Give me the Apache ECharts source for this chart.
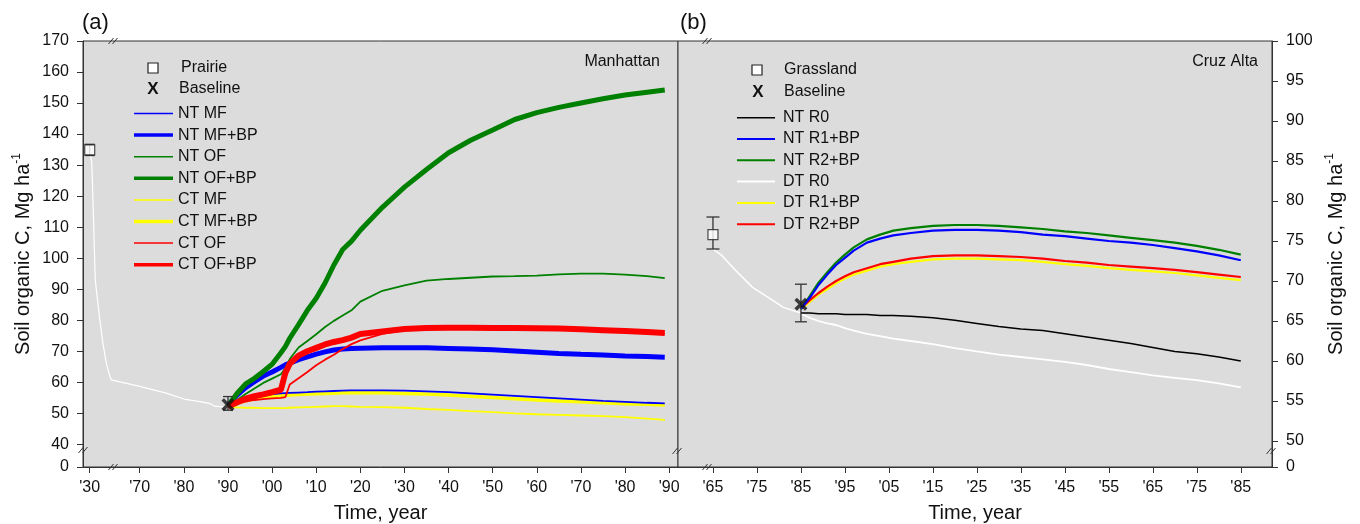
<!DOCTYPE html>
<html><head><meta charset="utf-8">
<script src="https://cdn.jsdelivr.net/npm/echarts@6/dist/echarts.min.js"></script>
<style>html,body{margin:0;padding:0;background:#fff}#c{width:1360px;height:524px}</style>
</head><body><div id="c"></div>
<script>
// ================= DATA =================
// ---- Panel (a): Manhattan ----
const aHistYears  = [1930, 1933, 1936, 1938, 1944, 1949, 1954, 1959, 1961, 1970, 1976, 1980, 1984, 1986, 1987, 1990];
const aHistValues = [134.5, 131, 109, 93, 81.3, 72.6, 66.1, 62, 60.8, 58.7, 56.5, 54.6, 53.7, 53.1, 52.3, 51.9];
const aYears = [1990,1992,1994,1996,1998,2000,2002,2003,2004,2006,2008,2010,2012,2014,2016,2018,2020,2025,2030,2035,2040,2045,2050,2055,2060,2065,2070,2075,2080,2085,2089];
const aNtMF   = [52.4,53.6,54.6,55.4,55.9,56.2,56.4,56.5,56.6,56.7,56.8,57.0,57.1,57.2,57.3,57.4,57.4,57.4,57.3,57.1,56.8,56.4,56.0,55.6,55.2,54.8,54.4,54.0,53.7,53.4,53.2];
const aNtMFBP = [52.6,55.8,58.3,60.2,62.0,63.3,64.8,65.6,66.2,67.3,68.2,69.1,69.8,70.4,70.7,70.9,71.0,71.1,71.1,71.1,70.9,70.7,70.5,70.1,69.7,69.3,69.0,68.8,68.5,68.3,68.1];
const aNtOF   = [52.4,54.2,56.2,58.0,59.8,61.2,62.6,64.5,67.5,71.2,73.3,75.5,77.8,79.8,81.5,83.2,86.0,89.5,91.2,92.8,93.3,93.7,94.1,94.2,94.4,94.8,95.0,95.0,94.7,94.2,93.6];
const aNtOFBP = [52.4,56.3,59.5,61.3,63.5,65.8,69.5,71.5,74.2,78.6,83.2,87.1,92.0,97.8,102.8,105.5,109.0,116.4,122.9,128.6,134.0,138.0,141.3,144.7,146.9,148.6,150.0,151.4,152.6,153.5,154.2];
const aCtMF   = [52.0,51.9,51.8,51.8,51.7,51.7,51.7,51.7,51.8,51.9,52.0,52.1,52.2,52.3,52.3,52.2,52.1,52.0,51.8,51.4,51.1,50.7,50.4,50.0,49.7,49.5,49.3,49.1,48.8,48.3,47.9];
const aCtMFBP = [52.2,53.2,54.0,54.6,55.1,55.4,55.7,55.8,55.9,56.1,56.2,56.3,56.4,56.5,56.6,56.6,56.6,56.6,56.4,56.2,55.9,55.5,55.1,54.7,54.3,54.0,53.7,53.4,53.1,52.9,52.7];
const aCtOF   = [52.2,53.1,53.8,54.3,54.6,54.8,55.0,55.2,59.3,61.3,63.3,65.5,67.3,68.9,70.7,72.3,73.5,75.6,76.8,77.2,77.3,77.3,77.2,77.2,77.1,77.0,76.8,76.5,76.2,75.9,75.6];
const aCtOFBP = [52.2,53.5,54.7,55.5,56.1,56.8,57.6,63.0,66.0,68.6,70.0,71.1,72.2,73.0,73.6,74.4,75.6,76.4,77.2,77.5,77.6,77.6,77.5,77.5,77.4,77.3,77.1,76.8,76.5,76.2,75.9];
const aPrairie  = [1930, 134.9, 133.1, 136.7];   // year, mean, low, high
const aBaseline = [1990, 52.8, 51.0, 55.4];
const aXTickYears  = [1930,1970,1980,1990,2000,2010,2020,2030,2040,2050,2060,2070,2080,2090];
const aXTickLabels = ["'30","'70","'80","'90","'00","'10","'20","'30","'40","'50","'60","'70","'80","'90"];
const aYTicks = [0,40,50,60,70,80,90,100,110,120,130,140,150,160,170];

// ---- Panel (b): Cruz Alta ----
const bHistYears  = [1965, 1967, 1970, 1974, 1978, 1981, 1985];
const bHistValues = [74.0, 73.2, 71.4, 69.2, 67.8, 66.7, 66.0];
const bYears = [1985,1987,1989,1991,1993,1995,1997,2000,2003,2006,2010,2015,2020,2025,2030,2035,2040,2045,2050,2055,2060,2065,2070,2075,2080,2085];
const bNtR0   = [66.0,66.0,65.9,65.9,65.9,65.8,65.8,65.8,65.7,65.7,65.6,65.4,65.1,64.7,64.3,64.0,63.8,63.4,63.0,62.6,62.2,61.7,61.2,60.9,60.5,60.0];
const bNtR1BP = [66.5,67.9,69.5,70.8,72.0,72.9,73.8,74.8,75.3,75.7,76.0,76.3,76.4,76.4,76.3,76.1,75.8,75.6,75.3,75.0,74.8,74.5,74.1,73.7,73.2,72.6];
const bNtR2BP = [66.5,68.1,69.8,71.1,72.3,73.3,74.2,75.2,75.8,76.3,76.6,76.9,77.0,77.0,76.9,76.7,76.5,76.2,76.0,75.7,75.4,75.1,74.8,74.4,73.9,73.3];
const bDtR0   = [65.9,65.4,65.0,64.7,64.5,64.1,63.8,63.4,63.1,62.8,62.5,62.1,61.6,61.2,60.8,60.5,60.2,59.9,59.5,59.0,58.6,58.2,57.9,57.6,57.2,56.7];
const bDtR1BP = [66.5,67.4,68.3,69.0,69.7,70.3,70.8,71.3,71.8,72.1,72.4,72.7,72.8,72.8,72.7,72.6,72.4,72.1,71.9,71.6,71.4,71.2,71.0,70.7,70.4,70.1];
const bDtR2BP = [66.6,67.6,68.5,69.3,70.0,70.6,71.1,71.6,72.1,72.4,72.8,73.1,73.2,73.2,73.1,73.0,72.8,72.5,72.3,72.0,71.8,71.6,71.4,71.1,70.8,70.5];
const bGrassland = [1965, 75.8, 74.0, 78.0];
const bBaseline  = [1985, 67.1, 64.9, 69.6];
const bXTickYears  = [1965,1975,1985,1995,2005,2015,2025,2035,2045,2055,2065,2075,2085];
const bXTickLabels = ["'65","'75","'85","'95","'05","'15","'25","'35","'45","'55","'65","'75","'85"];
const bYTicks = [0,50,55,60,65,70,75,80,85,90,95,100];

// ================= SCALES (broken axes) =================
const A_X_MIN = 1957.14, A_X_MAX = 2092.0, A_BREAK = 1964, A_30 = 1958.66;
const A_Y_MIN = 32.7, A_Y_MAX = 170;
const B_X_MIN = 1957.05, B_X_MAX = 2092.1;
const B_Y_MIN = 46.75, B_Y_MAX = 100;
function ax(r){ return r >= A_BREAK ? r : A_30 + (r - 1930) * (A_BREAK - A_30) / (A_BREAK - 1930); }
function ayT(v){ return v === 0 ? A_Y_MIN : v; }
function byT(v){ return v === 0 ? B_Y_MIN : v; }
function lab(vals, labels){ return v => { let bi=0, bd=1e9; vals.forEach((p,i)=>{const d=Math.abs(p-v); if(d<bd){bd=d;bi=i;}}); return labels[bi]; }; }

const F = '"Liberation Sans", Arial, Helvetica, sans-serif';
const INK = '#111';
const AX = '#333';

const aXT = aXTickYears.map(ax);
const aYT = aYTicks.map(ayT);
const bYT = bYTicks.map(byT);

function xAxisCfg(grid, min, max, ticks, labels){
  return {type:'value', gridIndex:grid, min, max,
    axisLine:{show:true, onZero:false, lineStyle:{color:AX, width:1}},
    axisTick:{show:true, inside:false, length:6, customValues:ticks, lineStyle:{color:AX}},
    axisLabel:{customValues:ticks, formatter:lab(ticks, labels), fontSize:16, fontFamily:F, color:INK, margin:13},
    splitLine:{show:false},
    name:'Time, year', nameLocation:'middle', nameGap:36,
    nameTextStyle:{fontSize:20, fontFamily:F, color:INK}};
}
function yAxisCfg(grid, pos, min, max, ticks, labels, gap){
  return {type:'value', gridIndex:grid, position:pos, min, max,
    axisLine:{show:true, onZero:false, lineStyle:{color:AX, width:1}},
    axisTick:{show:true, inside:false, length:6, customValues:ticks, lineStyle:{color:AX}},
    axisLabel:{customValues:ticks, formatter:lab(ticks, labels.map(String)), fontSize:16, fontFamily:F, color:INK, margin:14},
    splitLine:{show:false},
    name:'{m|Soil organic C, Mg ha}{s|-1}', nameLocation:'middle', nameRotate:90, nameGap:gap,
    nameTextStyle:{rich:{
      m:{fontSize:20, fontFamily:F, color:INK, lineHeight:24},
      s:{fontSize:12, fontFamily:F, color:INK, lineHeight:14, verticalAlign:'top'}}}};
}

function lineS(xi, years, vals, color, width, mapX){
  return {type:'line', xAxisIndex:xi, yAxisIndex:xi, showSymbol:false, silent:true, smooth:false,
    data: years.map((y,i)=>[mapX ? mapX(y) : y, vals[i]]),
    lineStyle:{color, width}, itemStyle:{color}};
}
function errS(xi, rec, mapX, half){
  return {type:'custom', xAxisIndex:xi, yAxisIndex:xi, silent:true, z:5,
    data:[[mapX ? mapX(rec[0]) : rec[0], rec[2], rec[3]]],
    renderItem:(p, api)=>{
      const t = api.coord([api.value(0), api.value(2)]);
      const b = api.coord([api.value(0), api.value(1)]);
      const st = {stroke:'#333', lineWidth:1.3};
      return {type:'group', children:[
        {type:'line', shape:{x1:t[0],y1:t[1],x2:b[0],y2:b[1]}, style:st},
        {type:'line', shape:{x1:t[0]-half,y1:t[1],x2:t[0]+half,y2:t[1]}, style:st},
        {type:'line', shape:{x1:b[0]-half,y1:b[1],x2:b[0]+half,y2:b[1]}, style:st}]};
    }};
}
const X_PATH = 'path://M0,1.9L1.9,0L5,3.1L8.1,0L10,1.9L6.9,5L10,8.1L8.1,10L5,6.9L1.9,10L0,8.1L3.1,5Z';
function squareS(xi, rec, mapX){
  return {type:'scatter', xAxisIndex:xi, yAxisIndex:xi, silent:true, z:6,
    data:[[mapX ? mapX(rec[0]) : rec[0], rec[1]]], symbol:'rect', symbolSize:10,
    itemStyle:{color:'#fff', borderColor:'#222', borderWidth:1.2}};
}
function xS(xi, rec, mapX){
  return {type:'scatter', xAxisIndex:xi, yAxisIndex:xi, silent:true, z:6,
    data:[[mapX ? mapX(rec[0]) : rec[0], rec[1]]], symbol:X_PATH, symbolSize:13,
    itemStyle:{color:'#111'}};
}

// ---- legend / annotation graphics ----
const G = [];
function gText(x, y, text, opt){ G.push({type:'text', x, y, z:100, style:Object.assign({text, fontSize:16, fontFamily:F, fill:INK, align:'left', verticalAlign:'middle'}, opt||{})}); }
function gLine(x1, y1, x2, y2, color, w){ G.push({type:'line', z:100, shape:{x1,y1,x2,y2}, style:{stroke:color, lineWidth:w}}); }
function gSquare(cx, cy){ G.push({type:'rect', z:100, shape:{x:cx-5, y:cy-5, width:10, height:10}, style:{fill:'#fff', stroke:'#222', lineWidth:1.2}}); }
function gBreak(cx, cy){ gLine(cx-5.5, cy+3, cx-0.5, cy-3, '#333', 1); gLine(cx-1.5, cy+3, cx+3.5, cy-3, '#333', 1); }

const aLegend = [
  ['NT MF','#0000ff',1.5], ['NT MF+BP','#0000ff',3.5], ['NT OF','#008000',1.5], ['NT OF+BP','#008000',3.5],
  ['CT MF','#ffff00',1.5], ['CT MF+BP','#ffff00',3.5], ['CT OF','#ff0000',1.5], ['CT OF+BP','#ff0000',3.5]];
const bLegend = [
  ['NT R0','#000000',1.5], ['NT R1+BP','#0000ff',2], ['NT R2+BP','#008000',2],
  ['DT R0','#ffffff',2], ['DT R1+BP','#ffff00',2], ['DT R2+BP','#ff0000',2]];

gSquare(153, 68); gText(181, 68, 'Prairie');
gText(153, 89, 'X', {align:'center', fontWeight:'bold', fontSize:17}); gText(179, 89, 'Baseline');
aLegend.forEach((d,i)=>{ const y = 113.5 + 21.6*i; gLine(134, y, 173, y, d[1], d[2]); gText(178, y, d[0]); });
gSquare(757, 70); gText(784, 70, 'Grassland');
gText(758, 92, 'X', {align:'center', fontWeight:'bold', fontSize:17}); gText(784, 92, 'Baseline');
bLegend.forEach((d,i)=>{ const y = 117.7 + 21.3*i; gLine(737, y, 775, y, d[1], d[2]); gText(783, y, d[0]); });
gText(660, 62, 'Manhattan', {align:'right'});
gText(1258, 62, 'Cruz Alta', {align:'right'});
gText(82, 23, '(a)', {fontSize:22});
gText(680, 23, '(b)', {fontSize:22});
gBreak(114, 41); gBreak(114, 467); gBreak(84, 450); gBreak(678, 451);
gBreak(708, 41); gBreak(708, 467); gBreak(1272, 451);

const chart = echarts.init(document.getElementById('c'), null, {renderer:'canvas'});
chart.setOption({
  animation:false,
  backgroundColor:'#fff',
  grid:[
    {left:83, right:682, top:41, bottom:57, show:true, outerBoundsMode:'none', containLabel:false, backgroundColor:'#dcdcdc', borderColor:AX, borderWidth:1},
    {left:678, right:88, top:41, bottom:57, show:true, outerBoundsMode:'none', containLabel:false, backgroundColor:'#dcdcdc', borderColor:AX, borderWidth:1}],
  xAxis:[ xAxisCfg(0, A_X_MIN, A_X_MAX, aXT, aXTickLabels), xAxisCfg(1, B_X_MIN, B_X_MAX, bXTickYears, bXTickLabels) ],
  yAxis:[ yAxisCfg(0, 'left', A_Y_MIN, A_Y_MAX, aYT, aYTicks, 48), yAxisCfg(1, 'right', B_Y_MIN, B_Y_MAX, bYT, bYTicks, 52) ],
  graphic:G,
  series:[
    lineS(0, aHistYears, aHistValues, '#ffffff', 1.2, ax),
    lineS(0, aYears, aCtMF,   '#ffff00', 1.8, ax),
    lineS(0, aYears, aCtMFBP, '#ffff00', 3.5, ax),
    lineS(0, aYears, aNtMF,   '#0000ff', 1.8, ax),
    lineS(0, aYears, aNtMFBP, '#0000ff', 5, ax),
    lineS(0, aYears, aNtOF,   '#008000', 1.8, ax),
    lineS(0, aYears, aNtOFBP, '#008000', 5, ax),
    lineS(0, aYears, aCtOF,   '#ff0000', 1.8, ax),
    lineS(0, aYears, aCtOFBP, '#ff0000', 6, ax),
    errS(0, aPrairie, ax, 5), squareS(0, aPrairie, ax),
    errS(0, aBaseline, ax, 5), xS(0, aBaseline, ax),
    lineS(1, bHistYears, bHistValues, '#ffffff', 1.5),
    lineS(1, bYears, bDtR0,   '#ffffff', 1.8),
    lineS(1, bYears, bNtR0,   '#000000', 1.5),
    lineS(1, bYears, bDtR1BP, '#ffff00', 2.2),
    lineS(1, bYears, bDtR2BP, '#ff0000', 2.2),
    lineS(1, bYears, bNtR2BP, '#008000', 2.2),
    lineS(1, bYears, bNtR1BP, '#0000ff', 2.2),
    errS(1, bGrassland, null, 6.5), squareS(1, bGrassland),
    errS(1, bBaseline, null, 6), xS(1, bBaseline)
  ]
});
</script>
</body></html>
